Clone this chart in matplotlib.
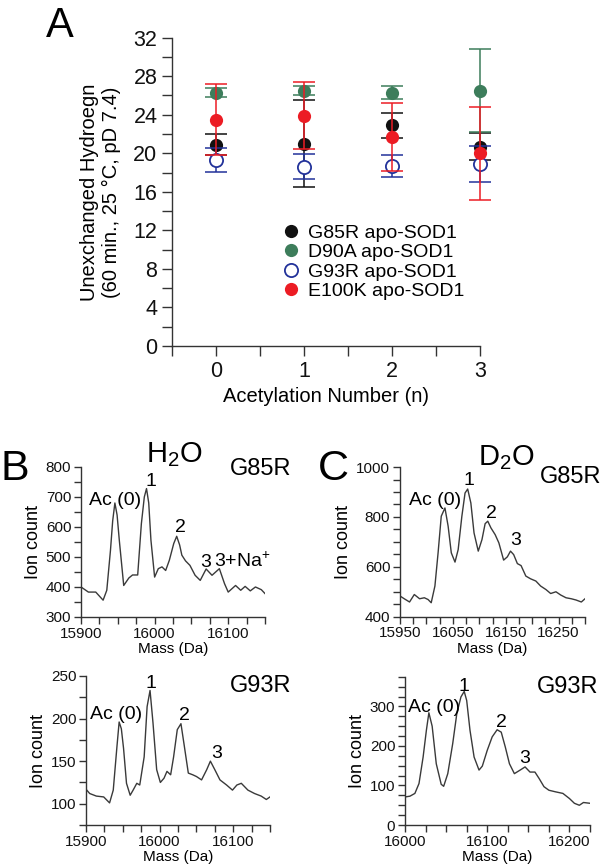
import matplotlib
matplotlib.use('Agg')
import matplotlib.pyplot as plt
from matplotlib.lines import Line2D
from matplotlib.ticker import MultipleLocator

plt.rcParams['font.family'] = ['Liberation Sans', 'DejaVu Sans']
plt.rcParams['mathtext.fontset'] = 'custom'
plt.rcParams['mathtext.rm'] = 'Liberation Sans'

# panel A: unexchanged hydrogens vs acetylation number
acetyl = [0, 1, 2, 3]
g85r_mean = [20.9, 21.0, 22.9, 20.7]
g85r_err = [1.1, 4.5, 1.3, 1.4]
d90a_mean = [26.3, 26.5, 26.3, 26.5]
d90a_err = [0.5, 0.5, 0.7, 4.3]
g93r_mean = [19.3, 18.6, 18.7, 18.9]
g93r_err = [1.25, 1.3, 1.15, 1.85]
e100k_mean = [23.5, 23.9, 21.7, 20.0]
e100k_err = [3.7, 3.5, 3.5, 4.8]
series_names = ['G85R apo-SOD1', 'D90A apo-SOD1', 'G93R apo-SOD1', 'E100K apo-SOD1']

# panel B top: H2O, G85R
mass_h2o_g85r = [15900, 15910, 15920, 15930, 15935, 15940, 15943, 15946, 15949, 15952,
                 15958, 15965, 15970, 15977, 15982, 15986, 15989, 15992, 15995, 16000,
                 16005, 16010, 16015, 16020, 16026, 16030, 16034, 16037, 16042, 16048,
                 16055, 16062, 16070, 16078, 16088, 16095, 16100, 16105, 16110, 16117,
                 16123, 16130, 16137, 16145, 16150]
ion_h2o_g85r = [400, 383, 383, 356, 389, 522, 620, 680, 640, 556,
                405, 430, 440, 440, 611, 700, 728, 680, 556, 433,
                461, 467, 455, 489, 545, 569, 540, 506, 487, 472,
                439, 422, 460, 439, 461, 411, 383, 394, 405, 389,
                402, 387, 400, 391, 378]

# panel C top: D2O, G85R
mass_d2o_g85r = [15950, 15958, 15968, 15977, 15987, 15996, 16003, 16009, 16016, 16022,
                 16028, 16035, 16041, 16047, 16054, 16060, 16067, 16073, 16078, 16084,
                 16090, 16098, 16105, 16111, 16116, 16122, 16130, 16137, 16146, 16153,
                 16159, 16165, 16172, 16179, 16188, 16197, 16207, 16216, 16226, 16235,
                 16245, 16254, 16264, 16274, 16283, 16293, 16300]
ion_d2o_g85r = [483, 472, 459, 489, 472, 476, 469, 456, 523, 656,
                803, 836, 763, 656, 619, 669, 803, 896, 912, 856,
                736, 663, 709, 773, 783, 756, 729, 696, 627, 640,
                663, 649, 613, 605, 563, 552, 543, 523, 509, 493,
                500, 487, 476, 472, 467, 459, 472]

# panel B bottom: H2O, G93R
mass_h2o_g93r = [15900, 15905, 15914, 15924, 15932, 15937, 15942, 15945, 15948, 15951,
                 15955, 15960, 15964, 15969, 15973, 15979, 15983, 15987, 15991, 15996,
                 16001, 16006, 16010, 16015, 16019, 16024, 16029, 16033, 16039, 16045,
                 16050, 16057, 16064, 16069, 16075, 16082, 16091, 16099, 16105, 16111,
                 16120, 16129, 16138, 16145, 16150]
ion_h2o_g93r = [117, 112, 109, 108, 101, 116, 167, 196, 188, 165,
                124, 110, 116, 124, 122, 155, 214, 233, 195, 140,
                125, 130, 138, 134, 155, 187, 194, 171, 136, 134,
                132, 128, 140, 150, 140, 128, 122, 116, 122, 124,
                116, 112, 109, 105, 108]

# panel C bottom: D2O, G93R
mass_d2o_g93r = [16000, 16006, 16012, 16017, 16022, 16026, 16029, 16033, 16038, 16044,
                 16047, 16052, 16058, 16063, 16068, 16072, 16075, 16079, 16084, 16090,
                 16094, 16100, 16106, 16112, 16117, 16122, 16127, 16133, 16140, 16146,
                 16152, 16158, 16163, 16169, 16175, 16183, 16192, 16200, 16206, 16212,
                 16217, 16225]
ion_d2o_g93r = [71, 73, 80, 105, 172, 240, 284, 250, 155, 103,
                98, 130, 206, 282, 324, 338, 315, 240, 172, 139,
                149, 189, 223, 241, 235, 197, 155, 130, 139, 147,
                134, 134, 118, 97, 88, 84, 80, 67, 55, 50,
                57, 55]

peak_labels = ['Ac (0)', '1', '2', '3']

BLACK = '#111111'
GREEN = '#3d7d5b'
BLUE = '#22329a'
RED = '#ec1c24'
AX = '#333333'
TRACE = '#3a3a3a'


def style_axes(ax, size):
    for side in ['top', 'right']:
        ax.spines[side].set_visible(False)
    for side in ['left', 'bottom']:
        ax.spines[side].set_color(AX)
        ax.spines[side].set_linewidth(1.0)
    ax.tick_params(which='both', direction='out', colors=AX, width=1.0,
                   labelsize=size, labelcolor='#111111')


fig = plt.figure(figsize=(6.02, 8.68), dpi=100, facecolor='white')

# ---- panel A ----
ax = fig.add_axes([0.2857, 0.6014, 0.512, 0.3552])
style_axes(ax, 15.5)
ax.tick_params(which='both', length=7)
order = [(g85r_mean, g85r_err, BLACK, True),
         (d90a_mean, d90a_err, GREEN, True),
         (g93r_mean, g93r_err, BLUE, False),
         (e100k_mean, e100k_err, RED, True)]
for mean, err, col, filled in order:
    eb = ax.errorbar(acetyl, mean, yerr=err, fmt='none', ecolor=col,
                     elinewidth=1.1, capsize=8, capthick=1.1)
    for art in list(eb.lines[1]) + list(eb.lines[2]):
        art.set_clip_on(False)
    ax.plot(acetyl, mean, 'o', markersize=9.5, clip_on=False,
            markerfacecolor=col if filled else 'white', markeredgecolor=col,
            markeredgewidth=1.3 if not filled else 0)
ax.set_xlim(-0.5, 3)
ax.set_ylim(0, 32)
ax.xaxis.set_major_locator(MultipleLocator(1))
ax.xaxis.set_minor_locator(MultipleLocator(0.5))
ax.yaxis.set_major_locator(MultipleLocator(4))
ax.yaxis.set_minor_locator(MultipleLocator(2))
ax.set_xlabel('Acetylation Number (n)', fontsize=14.5, labelpad=4)
ax.set_ylabel('Unexchanged Hydroegn\n(60 min., 25 \u00b0C, pD 7.4)', fontsize=14.5,
              labelpad=9, linespacing=1.15)
handles = []
for (mean, err, col, filled), name in zip(order, series_names):
    handles.append(Line2D([], [], marker='o', linestyle='none', markersize=9.5,
                          markerfacecolor=col if filled else 'white',
                          markeredgecolor=col, markeredgewidth=1.3 if not filled else 0,
                          label=name))
ax.legend(handles=handles, loc='center left', bbox_to_anchor=(0.354, 0.272),
          frameon=False, fontsize=14, handlelength=1.0, handletextpad=0.4,
          labelspacing=0.1, borderpad=0, borderaxespad=0)

# ---- spectra panels ----
spectra = [
    ([0.1346, 0.2892, 0.3056, 0.1728], mass_h2o_g85r, ion_h2o_g85r,
     (15900, 16150), (300, 800), 100, 25, 100, 50,
     [(15946, 672), (15995, 738), (16035, 583), (16069, 467)]),
    ([0.6645, 0.2895, 0.3073, 0.1724], mass_d2o_g85r, ion_d2o_g85r,
     (15950, 16300), (400, 1000), 100, 25, 200, 50,
     [(16017, 849), (16080, 929), (16122, 797), (16168, 689)]),
    ([0.1429, 0.0495, 0.3056, 0.1717], mass_h2o_g93r, ion_h2o_g93r,
     (15900, 16150), (75, 250), 100, 25, 50, 25,
     [(15941, 199), (15988, 236), (16034, 198), (16077, 154)]),
    ([0.6728, 0.0495, 0.3073, 0.1708], mass_d2o_g93r, ion_d2o_g93r,
     (16000, 16225), (0, 375), 100, 25, 100, 25,
     [(16035, 285), (16072, 340), (16117, 247), (16146, 156)]),
]
for rect, mass, ion, xl, yl, xmaj, xmin, ymaj, ymin, lab_pos in spectra:
    sa = fig.add_axes(rect)
    style_axes(sa, 11)
    sa.tick_params(which='both', length=5, pad=2)
    sa.plot(mass, ion, color=TRACE, linewidth=1.0)
    sa.set_xlim(*xl)
    sa.set_ylim(*yl)
    sa.xaxis.set_major_locator(MultipleLocator(xmaj, offset=xl[0] % xmaj))
    sa.xaxis.set_minor_locator(MultipleLocator(xmin))
    sa.yaxis.set_major_locator(MultipleLocator(ymaj))
    sa.yaxis.set_minor_locator(MultipleLocator(ymin))
    sa.set_xlabel('Mass (Da)', fontsize=11, labelpad=1)
    sa.set_ylabel('Ion count', fontsize=13, labelpad=3)
    for text, (px, py) in zip(peak_labels, lab_pos):
        sa.text(px, py, text, fontsize=14, ha='center', va='baseline')

# extra peak label on panel B top
fig.axes[1].text(16081, 467, r'3+Na$^{\mathregular{+}}$', fontsize=14,
                 ha='left', va='baseline')

# panel letters and titles
def fy(y):
    return 1 - y / 868


fig.text(60 / 602, fy(37), 'A', fontsize=30, ha='center', va='baseline')
fig.text(15 / 602, fy(480), 'B', fontsize=31, ha='center', va='baseline')
fig.text(333 / 602, fy(480), 'C', fontsize=31, ha='center', va='baseline')
fig.text(174 / 602, fy(462), r'H$_{\mathregular{2}}$O', fontsize=21, ha='center', va='baseline')
fig.text(506 / 602, fy(465), r'D$_{\mathregular{2}}$O', fontsize=21, ha='center', va='baseline')
fig.text(261 / 602, fy(475), 'G85R', fontsize=17, ha='center', va='baseline')
fig.text(571 / 602, fy(483), 'G85R', fontsize=17, ha='center', va='baseline')
fig.text(261 / 602, fy(692), 'G93R', fontsize=17, ha='center', va='baseline')
fig.text(568 / 602, fy(693), 'G93R', fontsize=17, ha='center', va='baseline')

fig.savefig('out.png', dpi=100, facecolor='white')
